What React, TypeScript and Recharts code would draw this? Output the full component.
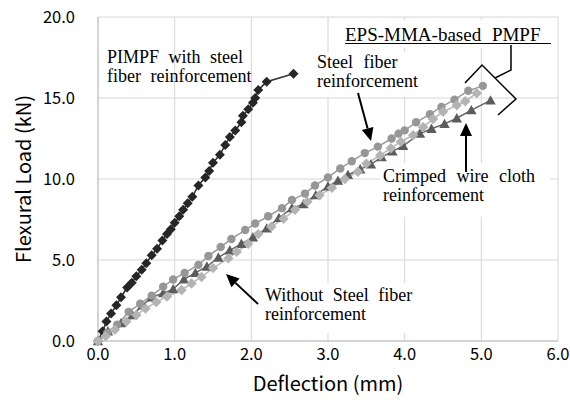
import { LineChart, Line, XAxis, YAxis, CartesianGrid } from "recharts";

// PIMPF with steel fiber reinforcement (black diamonds)
const pimpfX = [0, 0.06, 0.11, 0.17, 0.24, 0.3, 0.38, 0.44, 0.5, 0.57, 0.63, 0.7, 0.77, 0.84, 0.9, 0.95, 1.0, 1.06, 1.11, 1.17, 1.23, 1.31, 1.4, 1.45, 1.5, 1.59, 1.66, 1.72, 1.79, 1.87, 1.89, 1.96, 2.02, 2.05, 2.09, 2.2, 2.55];
const pimpfY = [0, 0.6, 1.2, 1.7, 2.2, 2.7, 3.3, 3.6, 4.0, 4.4, 4.8, 5.3, 5.7, 6.2, 6.6, 6.9, 7.3, 7.7, 8.1, 8.5, 8.9, 9.6, 10.1, 10.5, 11.0, 11.5, 12.1, 12.6, 13.0, 13.5, 13.9, 14.3, 14.7, 15.0, 15.5, 16.0, 16.5];

// EPS-MMA-based PMPF, steel fiber reinforcement (gray circles)
const steelX = [0, 0.12, 0.25, 0.4, 0.55, 0.7, 0.85, 0.98, 1.13, 1.31, 1.44, 1.6, 1.74, 1.92, 2.05, 2.22, 2.4, 2.53, 2.7, 2.83, 3.0, 3.16, 3.31, 3.48, 3.65, 3.83, 3.92, 4.0, 4.15, 4.33, 4.48, 4.65, 4.83, 5.02];
const steelY = [0, 0.5, 1.0, 1.8, 2.3, 2.8, 3.35, 3.8, 4.2, 4.7, 5.25, 5.8, 6.3, 6.85, 7.25, 7.7, 8.2, 8.7, 9.1, 9.6, 10.1, 10.65, 11.1, 11.6, 12.0, 12.5, 12.8, 13.0, 13.5, 14.0, 14.45, 14.9, 15.45, 15.75];

// crimped wire cloth reinforcement (dark triangles)
const wireX = [0, 0.13, 0.3, 0.45, 0.58, 0.7, 0.85, 0.98, 1.12, 1.27, 1.42, 1.57, 1.72, 1.87, 2.02, 2.2, 2.36, 2.53, 2.68, 2.84, 3.0, 3.13, 3.26, 3.42, 3.56, 3.7, 3.84, 3.98, 4.2, 4.35, 4.52, 4.68, 4.87, 5.12];
const wireY = [0, 0.6, 1.1, 1.6, 2.2, 2.7, 2.95, 3.2, 3.8, 4.2, 4.6, 5.15, 5.6, 6.0, 6.4, 6.95, 7.6, 8.2, 8.45, 9.0, 9.55, 9.9, 10.25, 10.6, 10.9, 11.35, 11.7, 12.05, 12.8, 13.1, 13.4, 13.75, 14.25, 14.85];

// without steel fiber reinforcement (light diamonds)
const plainX = [0, 0.1, 0.22, 0.37, 0.5, 0.62, 0.76, 0.9, 1.09, 1.22, 1.35, 1.5, 1.7, 1.81, 1.96, 2.09, 2.26, 2.42, 2.57, 2.73, 2.89, 3.05, 3.22, 3.39, 3.5, 3.68, 3.82, 3.95, 4.11, 4.24, 4.37, 4.5, 4.68, 4.79, 4.94];
const plainY = [0, 0.3, 0.7, 1.2, 1.6, 2.0, 2.4, 2.75, 3.15, 3.55, 3.95, 4.5, 5.1, 5.5, 6.0, 6.6, 7.05, 7.55, 8.1, 8.6, 9.0, 9.45, 10.0, 10.45, 10.95, 11.45, 11.9, 12.3, 12.7, 13.2, 13.7, 14.15, 14.55, 14.8, 15.3];

const xTicks = [0, 1, 2, 3, 4, 5, 6];
const yTicks = [0, 5, 10, 15, 20];

const toPoints = (xs: number[], ys: number[]) => xs.map((x, i) => ({ x, y: ys[i] }));

const tickFont = "'Noto Sans CJK JP', 'Noto Sans', sans-serif";
const noteFont = "'Liberation Serif', 'DejaVu Serif', serif";

function diamondDot(color: string, r: number) {
  return (props: any) => {
    const { cx, cy, index } = props;
    if (cx == null || cy == null) return <g key={index} />;
    return (
      <polygon
        key={index}
        points={`${cx},${cy - r} ${cx + r},${cy} ${cx},${cy + r} ${cx - r},${cy}`}
        fill={color}
      />
    );
  };
}

function circleDot(color: string, r: number) {
  return (props: any) => {
    const { cx, cy, index } = props;
    if (cx == null || cy == null) return <g key={index} />;
    return <circle key={index} cx={cx} cy={cy} r={r} fill={color} />;
  };
}

function triangleDot(color: string, r: number) {
  return (props: any) => {
    const { cx, cy, index } = props;
    if (cx == null || cy == null) return <g key={index} />;
    return (
      <polygon
        key={index}
        points={`${cx},${cy - r} ${cx + r},${cy + r * 0.8} ${cx - r},${cy + r * 0.8}`}
        fill={color}
      />
    );
  };
}

function Arrow({ x1, y1, x2, y2 }: { x1: number; y1: number; x2: number; y2: number }) {
  const a = Math.atan2(y2 - y1, x2 - x1);
  const len = 13;
  const w = 6;
  const bx = x2 - len * Math.cos(a);
  const by = y2 - len * Math.sin(a);
  const px = -Math.sin(a) * w;
  const py = Math.cos(a) * w;
  return (
    <g>
      <line x1={x1} y1={y1} x2={bx} y2={by} stroke="#000" strokeWidth={2} />
      <polygon points={`${x2},${y2} ${bx + px},${by + py} ${bx - px},${by - py}`} fill="#000" />
    </g>
  );
}

function Note({ x, y, lines, size = 18, ws = 5 }: { x: number; y: number; lines: string[]; size?: number; ws?: number }) {
  return (
    <text x={x} y={y} fontFamily={noteFont} fontSize={size} fill="#000" style={{ wordSpacing: ws }}>
      {lines.map((l, i) => (
        <tspan key={i} x={x} dy={i === 0 ? 0 : 19}>
          {l}
        </tspan>
      ))}
    </text>
  );
}

export default function App() {
  return (
    <div style={{ position: "absolute", left: 0, top: 0, width: 570, height: 401, background: "#fff" }}>
      <LineChart width={570} height={401} margin={{ top: 17, right: 12, left: 0, bottom: 0 }}>
        <CartesianGrid stroke="#d6d6d6" strokeWidth={1} />
        <XAxis
          type="number"
          dataKey="x"
          domain={[0, 6]}
          ticks={xTicks}
          tickFormatter={(v: number) => v.toFixed(1)}
          height={60}
          axisLine={{ stroke: "#bdbdbd" }}
          tickLine={false}
          tickSize={0}
          tickMargin={7}
          tick={{ fill: "#000", fontSize: 16.5, fontFamily: tickFont }}
        />
        <YAxis
          type="number"
          dataKey="y"
          domain={[0, 20]}
          ticks={yTicks}
          tickFormatter={(v: number) => v.toFixed(1)}
          width={98}
          axisLine={{ stroke: "#bdbdbd" }}
          tickLine={false}
          tickSize={0}
          tickMargin={23}
          tick={{ fill: "#000", fontSize: 16.5, fontFamily: tickFont }}
        />
        <Line
          data={toPoints(pimpfX, pimpfY)}
          dataKey="y"
          type="linear"
          stroke="#333"
          strokeWidth={1.6}
          dot={diamondDot("#262626", 5)}
          isAnimationActive={false}
        />
        <Line
          data={toPoints(wireX, wireY)}
          dataKey="y"
          type="linear"
          stroke="#666"
          strokeWidth={1.5}
          dot={triangleDot("#5c5c5c", 5.2)}
          isAnimationActive={false}
        />
        <Line
          data={toPoints(steelX, steelY)}
          dataKey="y"
          type="linear"
          stroke="#9a9a9a"
          strokeWidth={1.5}
          dot={circleDot("#979797", 4.2)}
          isAnimationActive={false}
        />
        <Line
          data={toPoints(plainX, plainY)}
          dataKey="y"
          type="linear"
          stroke="#b8b8b8"
          strokeWidth={1.5}
          dot={diamondDot("#b3b3b3", 5.2)}
          isAnimationActive={false}
        />
      </LineChart>
      <svg width={570} height={401} style={{ position: "absolute", left: 0, top: 0, pointerEvents: "none" }}>
        {/* white boxes behind the notes */}
        <rect x={305} y={52} width={117} height={45} fill="#fff" />
        <rect x={340} y={20} width={215} height={28} fill="#fff" />
        <rect x={380} y={163} width={170} height={54} fill="#fff" />
        <rect x={260} y={283} width={160} height={50} fill="#fff" />

        <Note x={107} y={63} lines={["PIMPF with steel", "fiber reinforcement"]} ws={5} />
        <Note x={317} y={68} lines={["Steel fiber", "reinforcement"]} ws={6} />
        <Note x={383} y={182} lines={["Crimped wire cloth", "reinforcement"]} ws={6} />
        <Note x={265} y={301} lines={["Without Steel fiber", "reinforcement"]} ws={5} />

        <text x={345} y={41} fontFamily={noteFont} fontSize={19} fill="#000" style={{ wordSpacing: 6 }}>
          EPS-MMA-based PMPF
        </text>
        <line x1={345} y1={43.5} x2={551} y2={43.5} stroke="#000" strokeWidth={1.2} />

        <polyline points="465,83 482,65 516,99 498,115" fill="none" stroke="#000" strokeWidth={1.5} />
        <polyline points="495,78 511,70 511,45" fill="none" stroke="#000" strokeWidth={1.5} />

        <Arrow x1={358} y1={93} x2={371} y2={141} />
        <Arrow x1={466} y1={172} x2={466} y2={123} />
        <Arrow x1={258} y1={304} x2={226} y2={274} />

        <text x={328} y={391} textAnchor="middle" fontFamily={tickFont} fontSize={20} fill="#000">
          Deflection (mm)
        </text>
        <text
          x={22}
          y={179}
          textAnchor="middle"
          dominantBaseline="central"
          transform="rotate(-90 22 179)"
          fontFamily={tickFont}
          fontSize={20}
          fill="#000"
        >
          Flexural Load (kN)
        </text>
      </svg>
    </div>
  );
}
